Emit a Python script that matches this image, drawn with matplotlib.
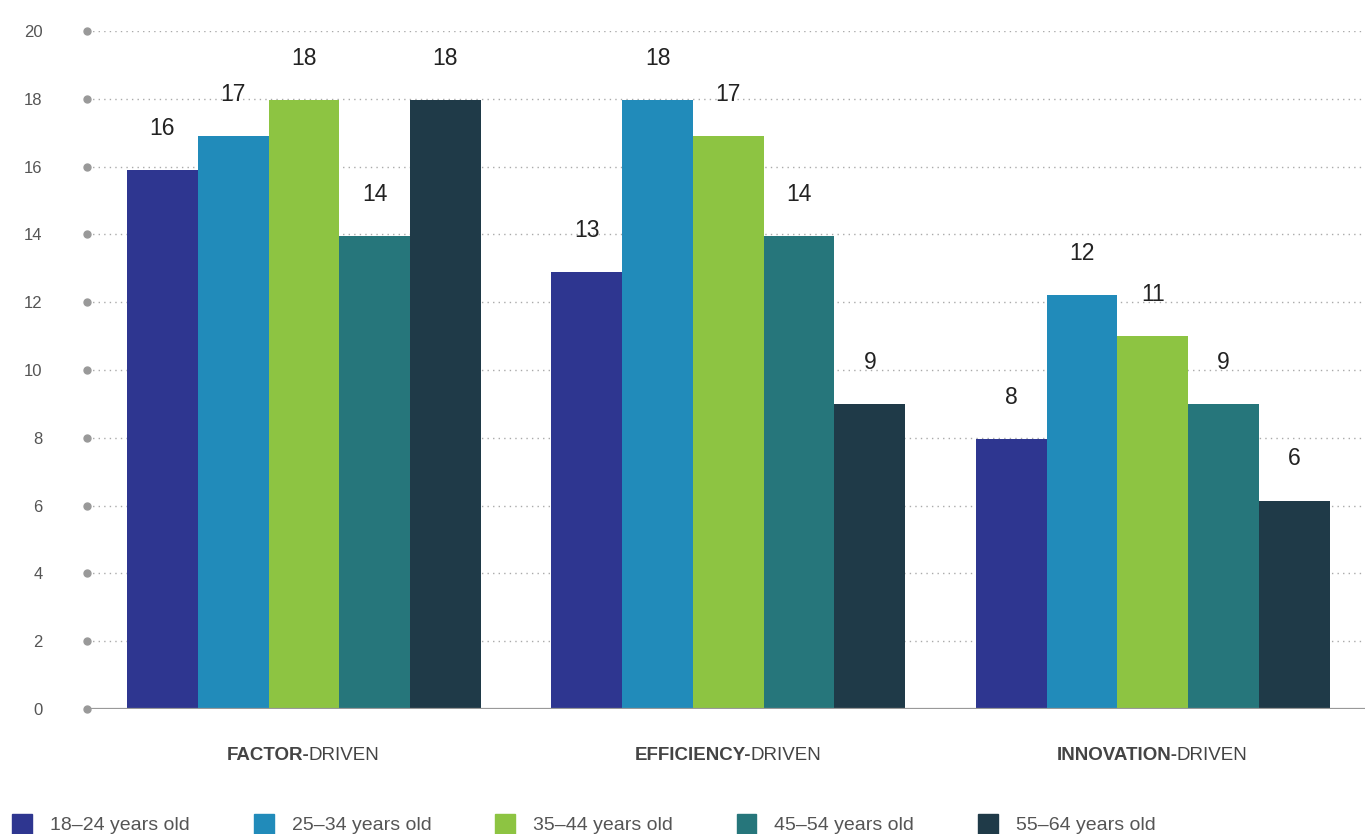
import matplotlib
matplotlib.use("Agg")
import matplotlib.pyplot as plt
import numpy as np

groups_bold = ["FACTOR-", "EFFICIENCY-", "INNOVATION-"]
group_suffix = "DRIVEN"
ages = ["18–24 years old", "25–34 years old", "35–44 years old",
        "45–54 years old", "55–64 years old"]
colors = ["#2E3690", "#218BBA", "#8DC442", "#26767B", "#1F3A48"]

factor = [15.9, 16.9, 17.95, 13.95, 17.95]
efficiency = [12.9, 17.95, 16.9, 13.95, 9.0]
innovation = [7.95, 12.2, 11.0, 9.0, 6.15]
labels = [[16, 17, 18, 14, 18], [13, 18, 17, 14, 9], [8, 12, 11, 9, 6]]
values = np.array([factor, efficiency, innovation])

plt.rcParams['font.family'] = ["Liberation Sans", "DejaVu Sans"]

fig = plt.figure(figsize=(13.65, 8.34), dpi=100)
ax = fig.add_axes([87/1365, 1-709/834, 1-87/1365, (709-31)/834])

w = 1/6
x = np.arange(3)
for i in range(5):
    pos = x + (i - 2) * w
    ax.bar(pos, values[:, i], width=w, color=colors[i], zorder=3, linewidth=0)
    for j in range(3):
        ax.annotate(str(labels[j][i]), (pos[j], values[j, i]), xytext=(0, 30),
                    textcoords="offset points", ha="center", va="center",
                    fontsize=16.5, color="#222222")

ax.set_xlim(-0.511, 2.5)
ax.set_ylim(0, 20)
ticks = np.arange(0, 21, 2)
ax.set_yticks(ticks)
ax.set_yticklabels([str(t) for t in ticks], fontsize=12, color="#555555")
ax.tick_params(axis="y", length=0, pad=32)
ax.set_xticks([])
for s in ax.spines.values():
    s.set_visible(False)
for t in ticks[1:]:
    ax.axhline(t, color="#aaaaaa", linestyle=(0, (1, 3)), linewidth=1.0, zorder=1)
ax.axhline(0, color="#999999", linewidth=1.6, zorder=4)
ax.plot(np.full(len(ticks), -0.511), ticks, "o", color="#999999", markersize=5,
        clip_on=False, zorder=5)

# category labels: bold prefix + regular suffix, centred under each group
fig.canvas.draw()
r = fig.canvas.get_renderer()
for j, name in enumerate(groups_bold):
    tb = ax.text(0, 0, name, fontsize=13.5, fontweight="bold", color="#444444")
    tr = ax.text(0, 0, group_suffix, fontsize=13.5, color="#444444")
    wb = tb.get_window_extent(r).width
    wr = tr.get_window_extent(r).width
    tb.remove(); tr.remove()
    cx = ax.transData.transform((j, 0))[0]
    ypix = 834 - 756
    left = cx - (wb + wr) / 2
    fig.text(left / 1365, ypix / 834, name, fontsize=13.5,
             fontweight="bold", color="#444444", va="center", ha="left")
    fig.text((left + wb - 1) / 1365, ypix / 834, group_suffix,
             fontsize=13.5, color="#444444", va="center", ha="left")

# legend
for i, a in enumerate(ages):
    x0 = 12 + i * 241.5
    fig.patches.append(plt.Rectangle((x0 / 1365, 0), 20 / 1365, 20 / 834,
                                     transform=fig.transFigure, color=colors[i]))
    fig.text((x0 + 38) / 1365, (834 - 826) / 834, a, fontsize=14,
             color="#555555", va="center", ha="left")

fig.savefig("out.png", dpi=100)
